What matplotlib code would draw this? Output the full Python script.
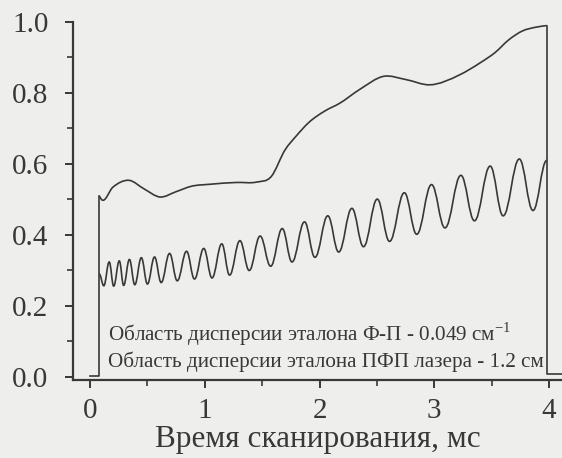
import numpy as np
import matplotlib
matplotlib.use("Agg")
import matplotlib.pyplot as plt
from matplotlib.path import Path
from matplotlib.patches import PathPatch

plt.rcParams['font.family'] = ['Liberation Serif', 'DejaVu Serif']
plt.rcParams['mathtext.fontset'] = 'custom'
plt.rcParams['mathtext.rm'] = 'Liberation Serif'

# upper trace (laser power)
upper_x = [0.08, 0.10, 0.20, 0.34, 0.47, 0.61, 0.75, 0.88, 1.05, 1.28, 1.45, 1.58, 1.70, 1.80,
           1.90, 2.05, 2.17, 2.35, 2.56, 2.75, 2.96, 3.22, 3.40, 3.53, 3.65, 3.77, 3.88, 3.98]
upper_y = [0.51, 0.50, 0.535, 0.554, 0.53, 0.507, 0.522, 0.537, 0.543, 0.548, 0.549, 0.565, 0.64, 0.68,
           0.715, 0.75, 0.77, 0.81, 0.847, 0.838, 0.823, 0.851, 0.885, 0.914, 0.95, 0.975, 0.985, 0.99]

# lower trace (etalon fringes), extrema in order
lower_x = [0.08, 0.12, 0.167, 0.206, 0.255, 0.293, 0.343, 0.39, 0.447, 0.50, 0.562, 0.62, 0.693,
           0.76, 0.841, 0.91, 0.991, 1.063, 1.148, 1.216, 1.306, 1.387, 1.482, 1.574, 1.675, 1.76,
           1.869, 1.96, 2.072, 2.167, 2.282, 2.383, 2.503, 2.61, 2.739, 2.847, 2.976, 3.093, 3.232,
           3.35, 3.487, 3.60, 3.741, 3.86, 3.98]
lower_y = [0.29, 0.257, 0.324, 0.256, 0.327, 0.258, 0.331, 0.26, 0.336, 0.262, 0.338, 0.266, 0.348,
           0.271, 0.354, 0.276, 0.362, 0.279, 0.375, 0.287, 0.384, 0.30, 0.397, 0.312, 0.418, 0.324,
           0.437, 0.337, 0.454, 0.352, 0.475, 0.367, 0.501, 0.382, 0.519, 0.402, 0.542, 0.42, 0.568,
           0.44, 0.594, 0.454, 0.614, 0.469, 0.61]

# scan start / end steps
start_x = [0.0, 0.08, 0.08]
start_y = [0.004, 0.004, 0.51]
end_x = [3.98, 3.98, 4.12]
end_y = [0.99, 0.008, 0.008]

label1 = "Область дисперсии эталона Ф-П - 0.049 см$^{-1}$"
label2 = "Область дисперсии эталона ПФП лазера - 1.2 см"

ink = '#383838'


def smooth_path(xs, ys, flat=False):
    # bezier through the points, flat tangents for fringe extrema
    xs = np.asarray(xs, float)
    ys = np.asarray(ys, float)
    n = len(xs)
    if flat:
        s = np.zeros(n)
    else:
        s = np.gradient(ys, xs)
    verts = [(xs[0], ys[0])]
    codes = [Path.MOVETO]
    for i in range(n - 1):
        d = xs[i + 1] - xs[i]
        k = 0.4 if flat else 1 / 3
        verts += [(xs[i] + k * d, ys[i] + k * d * s[i]),
                  (xs[i + 1] - k * d, ys[i + 1] - k * d * s[i + 1]),
                  (xs[i + 1], ys[i + 1])]
        codes += [Path.CURVE4] * 3
    return Path(verts, codes)


fig = plt.figure(figsize=(5.62, 4.58), dpi=100, facecolor='#eeeeec')
ax = fig.add_axes([0.1296, 0.1703, 0.8704, 0.7972])
ax.set_facecolor('#eeeeec')

lw = 1.2
ax.add_patch(PathPatch(smooth_path(upper_x, upper_y), fill=False, ec=ink, lw=lw))
ax.add_patch(PathPatch(smooth_path(lower_x, lower_y, flat=True), fill=False, ec=ink, lw=lw))
ax.plot(start_x, start_y, color=ink, lw=lw)
ax.plot(end_x, end_y, color=ink, lw=lw)

ax.text(0.16, 0.121, label1, fontsize=15.2, color=ink, va='center', ha='left')
ax.text(0.16, 0.042, label2, fontsize=15.2, color=ink, va='center', ha='left')

ax.set_xlim(-0.15, 4.113)
ax.set_ylim(-0.0085, 1.02)
ax.spines['top'].set_visible(False)
ax.spines['right'].set_visible(False)
ax.spines['left'].set_bounds(-0.0085, 1.0)
for sp in ['left', 'bottom']:
    ax.spines[sp].set_linewidth(1.6)
    ax.spines[sp].set_color(ink)

ax.set_xticks([0, 1, 2, 3, 4])
ax.set_xticks([0.5, 1.5, 2.5, 3.5], minor=True)
ax.set_yticks([0.0, 0.2, 0.4, 0.6, 0.8, 1.0])
ax.set_yticklabels(['0.0', '0.2', '0.4', '0.6', '0.8', '1.0'])
ax.set_yticks([0.1, 0.3, 0.5, 0.7, 0.9], minor=True)
ax.tick_params(which='major', length=6, width=1.4, color=ink, labelsize=21, labelcolor=ink, pad=11.5)
ax.tick_params(axis='x', which='major', pad=7)
ax.tick_params(which='minor', length=4, width=1.2, color=ink)
ax.set_xlabel("Время сканирования, мс", fontsize=22.5, color=ink, labelpad=0.5)

fig.savefig('out.png', dpi=100, facecolor=fig.get_facecolor())
